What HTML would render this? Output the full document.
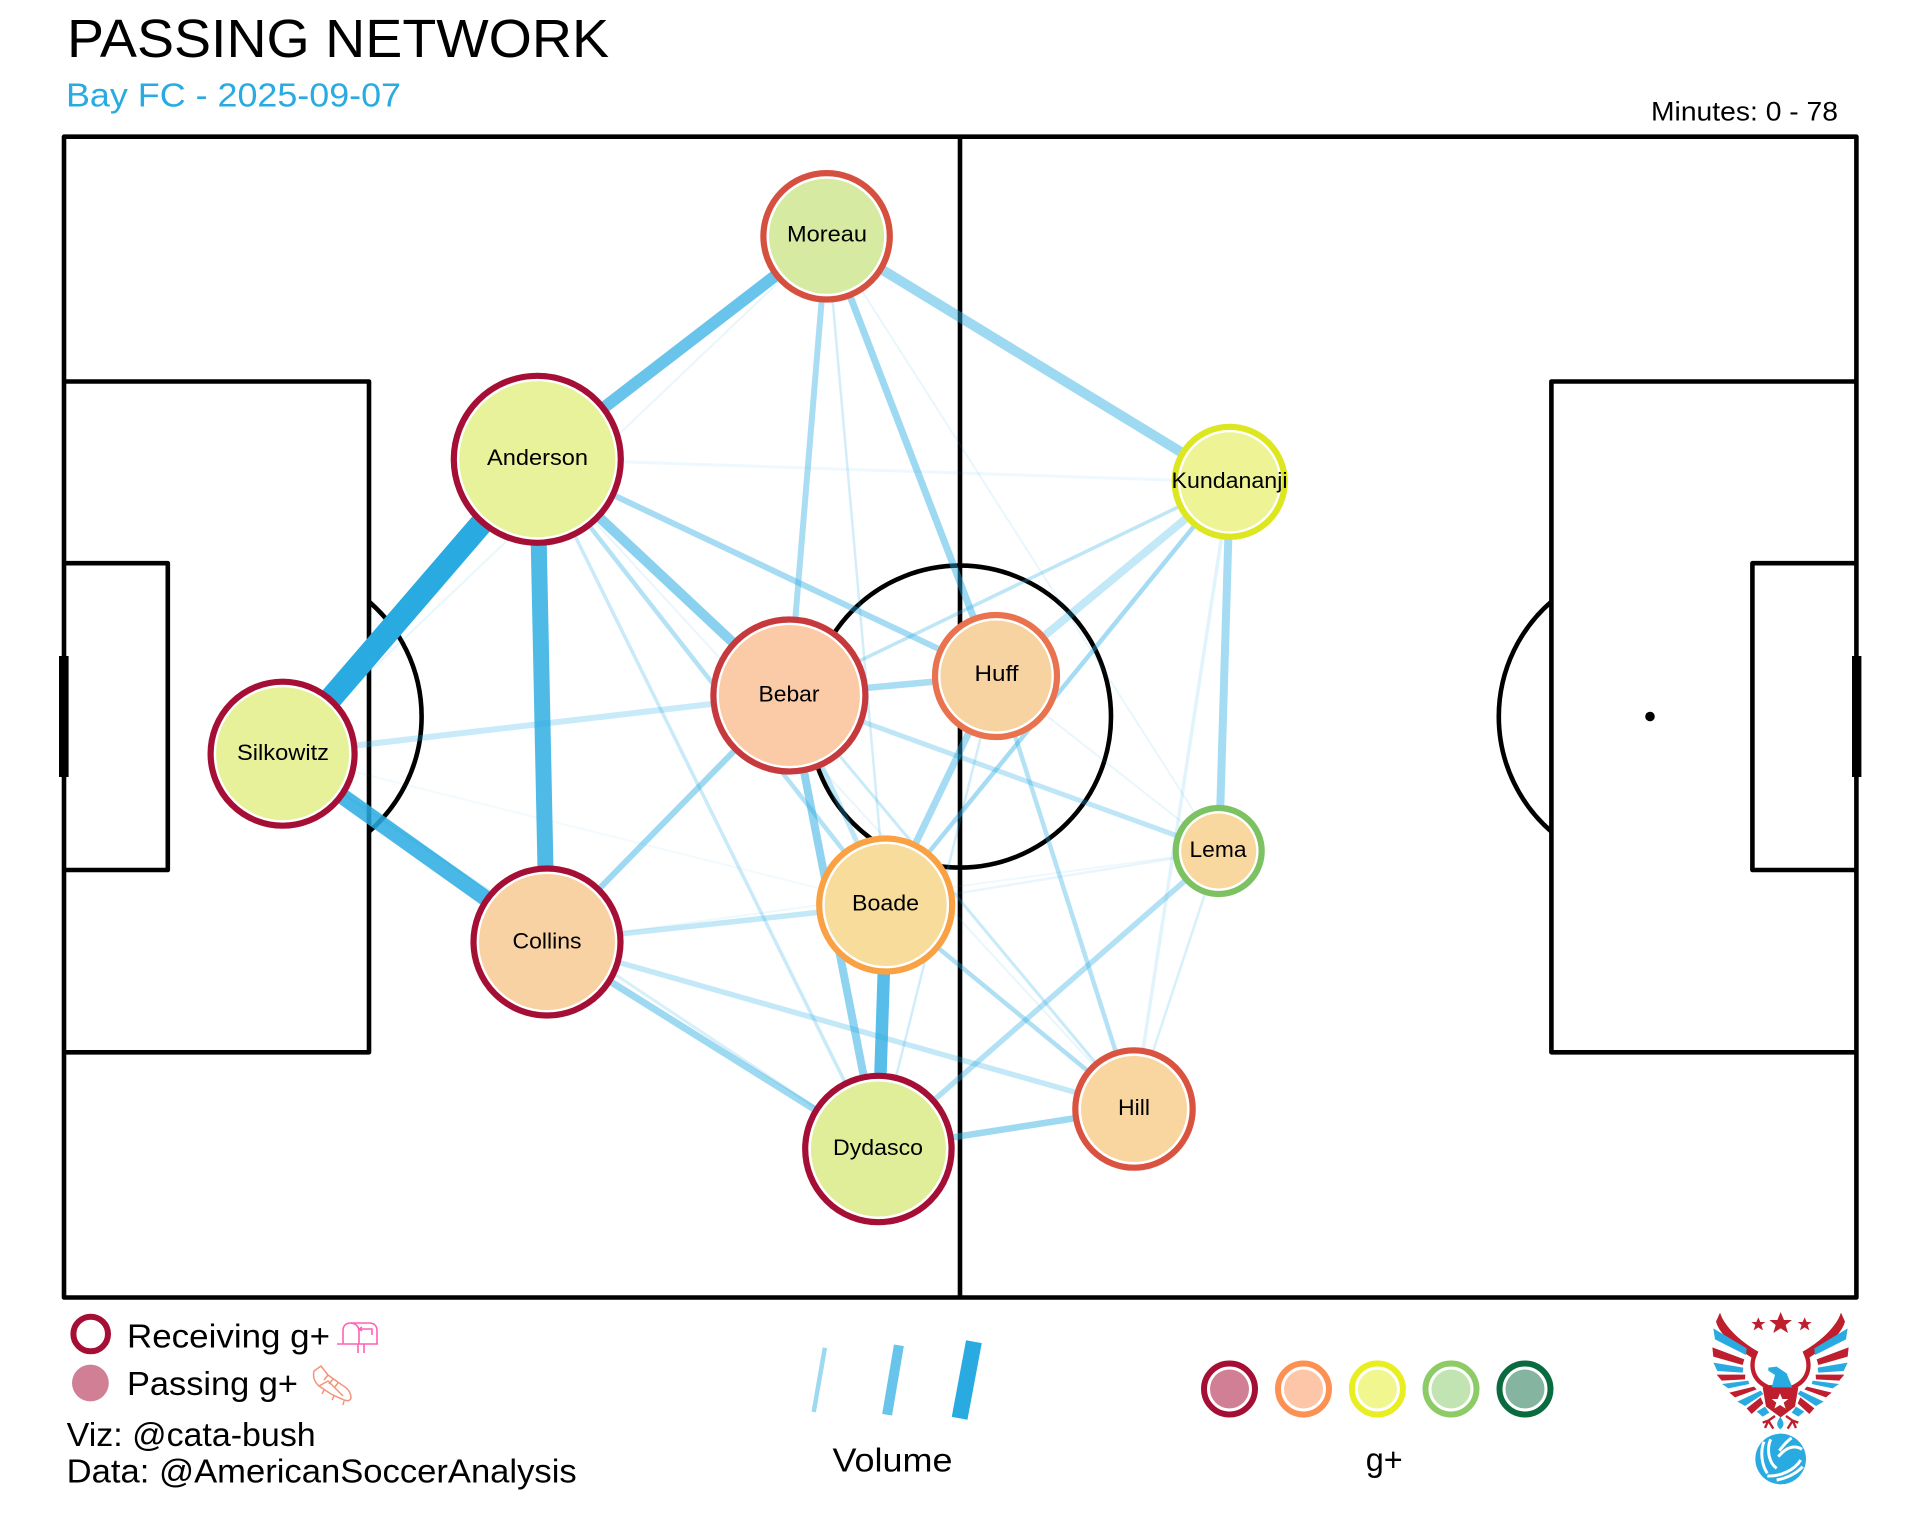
<!DOCTYPE html>
<html lang="en">
<head>
<meta charset="utf-8">
<title>Passing Network</title>
<style>
html,body{margin:0;padding:0;background:#fff}
svg{display:block}
text{font-family:"Liberation Sans",sans-serif;fill:#000}
</style>
</head>
<body>
<svg xmlns="http://www.w3.org/2000/svg" width="1920" height="1521" viewBox="0 0 1920 1521">
<rect width="1920" height="1521" fill="#fff"/>

<text x="67" y="57" font-size="54" textLength="542" lengthAdjust="spacingAndGlyphs">PASSING NETWORK</text>
<text x="66" y="106.5" font-size="33" textLength="335" lengthAdjust="spacingAndGlyphs" style="fill:#29abe2">Bay FC - 2025-09-07</text>
<text x="1651" y="120.5" font-size="27" textLength="187" lengthAdjust="spacingAndGlyphs">Minutes: 0 - 78</text>

<!-- pitch -->
<g fill="none" stroke="#000" stroke-width="4.6" stroke-linejoin="round">
<rect x="64" y="136.7" width="1792.4" height="1160.8"/>
<line x1="960" y1="136.7" x2="960" y2="1297.5"/>
<circle cx="960" cy="716.6" r="151"/>
<path d="M64,381.5H369V1052.3H64"/>
<path d="M64,563.2H167.8V870H64"/>
<path d="M1856.4,381.5H1551.4V1052.3H1856.4"/>
<path d="M1856.4,563.2H1752.4V870H1856.4"/>
<path d="M369,601.6A152,152 0 0 1 369,831.6"/>
<path d="M1551.4,601.6A152,152 0 0 0 1551.4,831.6"/>
</g>
<rect x="59" y="656" width="9.6" height="121" fill="#000"/>
<rect x="1852" y="656" width="9.4" height="121" fill="#000"/>
<circle cx="1650" cy="716.5" r="4.8" fill="#000"/>

<!-- edges -->
<g stroke="#29abe2" fill="none">
<line x1="537" y1="459" x2="283" y2="754" stroke-width="23"/>
<line x1="537" y1="459" x2="547" y2="942" stroke-width="16" stroke-opacity=".82"/>
<line x1="283" y1="754" x2="547" y2="942" stroke-width="16" stroke-opacity=".85"/>
<line x1="537" y1="459" x2="827" y2="236" stroke-width="12" stroke-opacity=".7"/>
<line x1="827" y1="236" x2="1230" y2="482" stroke-width="10" stroke-opacity=".45"/>
<line x1="827" y1="236" x2="789" y2="695" stroke-width="6" stroke-opacity=".4"/>
<line x1="827" y1="236" x2="996" y2="676" stroke-width="7" stroke-opacity=".45"/>
<line x1="827" y1="236" x2="886" y2="905" stroke-width="2.5" stroke-opacity=".2"/>
<line x1="827" y1="236" x2="1219" y2="851" stroke-width="2" stroke-opacity=".1"/>
<line x1="827" y1="236" x2="283" y2="754" stroke-width="2" stroke-opacity=".1"/>
<line x1="537" y1="459" x2="1230" y2="482" stroke-width="3" stroke-opacity=".08"/>
<line x1="537" y1="459" x2="996" y2="676" stroke-width="6" stroke-opacity=".42"/>
<line x1="537" y1="459" x2="789" y2="695" stroke-width="10" stroke-opacity=".55"/>
<line x1="537" y1="459" x2="886" y2="905" stroke-width="4.5" stroke-opacity=".35"/>
<line x1="537" y1="459" x2="878" y2="1149" stroke-width="3.5" stroke-opacity=".25"/>
<line x1="537" y1="459" x2="1134" y2="1109" stroke-width="2" stroke-opacity=".1"/>
<line x1="283" y1="754" x2="789" y2="695" stroke-width="6" stroke-opacity=".25"/>
<line x1="283" y1="754" x2="886" y2="905" stroke-width="2" stroke-opacity=".06"/>
<line x1="283" y1="754" x2="878" y2="1149" stroke-width="3" stroke-opacity=".18"/>
<line x1="789" y1="695" x2="996" y2="676" stroke-width="6.5" stroke-opacity=".4"/>
<line x1="789" y1="695" x2="1230" y2="482" stroke-width="3.5" stroke-opacity=".3"/>
<line x1="789" y1="695" x2="547" y2="942" stroke-width="6" stroke-opacity=".45"/>
<line x1="789" y1="695" x2="886" y2="905" stroke-width="5" stroke-opacity=".3"/>
<line x1="789" y1="695" x2="878" y2="1149" stroke-width="8" stroke-opacity=".52"/>
<line x1="789" y1="695" x2="1219" y2="851" stroke-width="5" stroke-opacity=".3"/>
<line x1="789" y1="695" x2="1134" y2="1109" stroke-width="3" stroke-opacity=".25"/>
<line x1="996" y1="676" x2="1230" y2="482" stroke-width="8" stroke-opacity=".28"/>
<line x1="996" y1="676" x2="886" y2="905" stroke-width="7" stroke-opacity=".42"/>
<line x1="996" y1="676" x2="878" y2="1149" stroke-width="2.5" stroke-opacity=".22"/>
<line x1="996" y1="676" x2="1134" y2="1109" stroke-width="4.5" stroke-opacity=".35"/>
<line x1="996" y1="676" x2="1219" y2="851" stroke-width="2" stroke-opacity=".1"/>
<line x1="1230" y1="482" x2="886" y2="905" stroke-width="4.5" stroke-opacity=".42"/>
<line x1="1230" y1="482" x2="1219" y2="851" stroke-width="8" stroke-opacity=".42"/>
<line x1="1230" y1="482" x2="1134" y2="1109" stroke-width="3.5" stroke-opacity=".14"/>
<line x1="1219" y1="851" x2="1134" y2="1109" stroke-width="2.5" stroke-opacity=".18"/>
<line x1="1219" y1="851" x2="878" y2="1149" stroke-width="5.5" stroke-opacity=".36"/>
<line x1="1219" y1="851" x2="886" y2="905" stroke-width="2.5" stroke-opacity=".1"/>
<line x1="1219" y1="851" x2="547" y2="942" stroke-width="2" stroke-opacity=".08"/>
<line x1="547" y1="942" x2="886" y2="905" stroke-width="5.5" stroke-opacity=".28"/>
<line x1="547" y1="942" x2="1134" y2="1109" stroke-width="5.5" stroke-opacity=".28"/>
<line x1="547" y1="942" x2="878" y2="1149" stroke-width="7" stroke-opacity=".45"/>
<line x1="886" y1="905" x2="878" y2="1149" stroke-width="12.5" stroke-opacity=".78"/>
<line x1="886" y1="905" x2="1134" y2="1109" stroke-width="4.5" stroke-opacity=".38"/>
<line x1="878" y1="1149" x2="1134" y2="1109" stroke-width="6.5" stroke-opacity=".45"/>
</g>

<!-- nodes -->
<g stroke-width="6.2">
<circle cx="826.6" cy="236.3" r="63.2" fill="#fff" stroke="#d6503f"/><circle cx="826.6" cy="236.3" r="57.5" fill="#d6eaa2"/>
<circle cx="537.3" cy="459.3" r="83.5" fill="#fff" stroke="#a50f35"/><circle cx="537.3" cy="459.3" r="78" fill="#e8f29a"/>
<circle cx="282.6" cy="753.7" r="72" fill="#fff" stroke="#a50f35"/><circle cx="282.6" cy="753.7" r="66.5" fill="#e6f19a"/>
<circle cx="789.4" cy="695.5" r="76" fill="#fff" stroke="#c63a3e"/><circle cx="789.4" cy="695.5" r="70.5" fill="#facba6"/>
<circle cx="996" cy="676" r="61" fill="#fff" stroke="#e9734f"/><circle cx="996" cy="676" r="55.5" fill="#f8d3a2"/>
<circle cx="1229.7" cy="481.8" r="55" fill="#fff" stroke="#dde71f"/><circle cx="1229.7" cy="481.8" r="49.5" fill="#eef496"/>
<circle cx="1218.7" cy="851" r="43" fill="#fff" stroke="#7dc262"/><circle cx="1218.7" cy="851" r="37.5" fill="#f9d8a0"/>
<circle cx="1134" cy="1109" r="58.7" fill="#fff" stroke="#d95340"/><circle cx="1134" cy="1109" r="53" fill="#f9d6a0"/>
<circle cx="885.7" cy="905" r="66.5" fill="#fff" stroke="#f9a143"/><circle cx="885.7" cy="905" r="61" fill="#f7dc9c"/>
<circle cx="547" cy="942" r="73.5" fill="#fff" stroke="#a50f35"/><circle cx="547" cy="942" r="68" fill="#f9d2a3"/>
<circle cx="878.4" cy="1149" r="73.2" fill="#fff" stroke="#a50f35"/><circle cx="878.4" cy="1149" r="67.5" fill="#e0ee9a"/>
</g>
<g font-size="22" text-anchor="middle">
<text x="827" y="241.7" textLength="80" lengthAdjust="spacingAndGlyphs">Moreau</text>
<text x="537.5" y="465" textLength="101" lengthAdjust="spacingAndGlyphs">Anderson</text>
<text x="283" y="760" textLength="92" lengthAdjust="spacingAndGlyphs">Silkowitz</text>
<text x="789" y="701.7" textLength="61" lengthAdjust="spacingAndGlyphs">Bebar</text>
<text x="996.5" y="681" textLength="44" lengthAdjust="spacingAndGlyphs">Huff</text>
<text x="1229.5" y="488" textLength="116" lengthAdjust="spacingAndGlyphs">Kundananji</text>
<text x="1218" y="857" textLength="57" lengthAdjust="spacingAndGlyphs">Lema</text>
<text x="1134" y="1115" textLength="32" lengthAdjust="spacingAndGlyphs">Hill</text>
<text x="885.5" y="910.7" textLength="67" lengthAdjust="spacingAndGlyphs">Boade</text>
<text x="547" y="948.5" textLength="69" lengthAdjust="spacingAndGlyphs">Collins</text>
<text x="878" y="1155" textLength="90" lengthAdjust="spacingAndGlyphs">Dydasco</text>
</g>

<!-- left legend -->
<circle cx="90.7" cy="1334" r="17.3" fill="#fff" stroke="#a50f35" stroke-width="6"/>
<circle cx="90.4" cy="1383" r="18.4" fill="#d07f94"/>
<g font-size="33">
<text x="127" y="1347.5" textLength="203" lengthAdjust="spacingAndGlyphs">Receiving g+</text>
<text x="127" y="1395" textLength="171" lengthAdjust="spacingAndGlyphs">Passing g+</text>
<text x="66.7" y="1446" textLength="249" lengthAdjust="spacingAndGlyphs">Viz: @cata-bush</text>
<text x="66.7" y="1482.5" textLength="510" lengthAdjust="spacingAndGlyphs">Data: @AmericanSoccerAnalysis</text>
</g>
<!-- mailbox -->
<g fill="none" stroke="#ff62b5" stroke-width="1.6">
<path d="M343,1344V1331Q343,1323 351,1323H369Q377,1323 377,1331V1344"/>
<path d="M351,1323Q359,1324 359,1332V1344"/>
<path d="M337,1344H378"/>
<path d="M359,1329H372V1335M359,1329L362,1327M359,1329L362,1331"/>
<path d="M358,1344V1353M364,1344V1353"/>
</g>
<!-- boot -->
<g fill="none" stroke="#f4937a" stroke-width="1.5" stroke-linejoin="round" transform="translate(-2,-6)">
<path d="M316,1377L323,1372L330,1381L344,1391Q353,1396 353,1404Q352,1408 346,1406L333,1400L321,1392Q314,1386 316,1377Z"/>
<path d="M330,1381L326,1386M335,1385L331,1390M340,1389L336,1394M321,1392L330,1387L345,1402"/>
<path d="M326,1396L324,1400M336,1402L334,1406M346,1407L345,1411"/>
</g>

<!-- volume legend -->
<line x1="824.9" y1="1347.7" x2="813.7" y2="1412" stroke="#29abe2" stroke-width="4.5" stroke-opacity=".45"/>
<line x1="898.9" y1="1345.3" x2="887.1" y2="1414.7" stroke="#29abe2" stroke-width="10" stroke-opacity=".7"/>
<line x1="973.9" y1="1341.7" x2="959.6" y2="1418.3" stroke="#29abe2" stroke-width="16"/>
<text x="832.5" y="1471.5" font-size="33" textLength="120" lengthAdjust="spacingAndGlyphs">Volume</text>
<text x="1365.7" y="1471" font-size="33" textLength="37" lengthAdjust="spacingAndGlyphs">g+</text>

<!-- g+ legend -->
<g stroke-width="6">
<circle cx="1229.5" cy="1389" r="25.5" fill="#fff" stroke="#a50f35"/><circle cx="1229.5" cy="1389" r="19.5" fill="#d07f94"/>
<circle cx="1303.5" cy="1389" r="25.5" fill="#fff" stroke="#fd9153"/><circle cx="1303.5" cy="1389" r="19.5" fill="#fdc6a8"/>
<circle cx="1377.4" cy="1389" r="25.5" fill="#fff" stroke="#e8ee1f"/><circle cx="1377.4" cy="1389" r="19.5" fill="#f2f68f"/>
<circle cx="1451" cy="1389" r="25.5" fill="#fff" stroke="#8ccb66"/><circle cx="1451" cy="1389" r="19.5" fill="#c2e3b2"/>
<circle cx="1525" cy="1389" r="25.5" fill="#fff" stroke="#0a6b3f"/><circle cx="1525" cy="1389" r="19.5" fill="#85b5a0"/>
</g>

<!-- logo -->
<g transform="translate(1680,1300) scale(.3333)">
<defs>
<g id="wing">
<path fill="#be1e2d" d="M120,38C135,85 190,130 235,155L225,180C180,150 120,110 108,65Z"/>
<path fill="#29abe2" d="M100,85L200,145L198,165L105,118Z"/>
<path fill="#be1e2d" d="M97,142L193,178L188,195L100,170Z"/>
<path fill="#29abe2" d="M100,188L190,203L188,218L112,213Z"/>
<path fill="#be1e2d" d="M110,224L196,224L195,238L125,242Z"/>
<path fill="#29abe2" d="M126,252L205,242L208,252L145,265Z"/>
<path fill="#be1e2d" d="M148,278L222,260L230,268L165,292Z"/>
<path fill="#29abe2" d="M172,305L242,272L250,282L195,318Z"/>
<path fill="#be1e2d" d="M200,325L242,292L250,310L215,342Z"/>
<path fill="#29abe2" d="M230,335L255,320L268,338L248,350Z"/>
<path fill="none" stroke="#be1e2d" stroke-width="7" d="M285,348L265,362M265,362L248,368M265,362L255,384M265,362L280,386"/>
</g>
</defs>
<use href="#wing"/>
<use href="#wing" transform="translate(603,0) scale(-1,1)"/>
<path fill="none" stroke="#be1e2d" stroke-width="13" d="M228,155C208,195 215,240 265,262L338,262C388,240 395,195 375,155"/>
<path fill="#be1e2d" d="M248,262H355L345,320L302,352L258,320Z"/>
<path fill="#29abe2" d="M265,203L290,200L320,220L337,262H275L285,225L265,212Z"/>
<path fill="#fff" d="M300,280L307,297H325L311,308L317,326L300,315L283,326L289,308L275,297H293Z"/>
<path fill="#29abe2" d="M301,350C292,365 285,375 301,388C317,375 310,365 301,350Z"/>
<path fill="#be1e2d" d="M302,36L312,60H336L317,75L324,99L302,85L280,99L287,75L268,60H292Z"/>
<path fill="#be1e2d" d="M235,52L241,66H256L244,75L249,91L235,82L221,91L226,75L214,66H229Z"/>
<path fill="#be1e2d" d="M374,52L380,66H395L383,75L388,91L374,82L360,91L365,75L353,66H368Z"/>
<circle cx="302" cy="477" r="76" fill="#29abe2"/>
<g fill="none" stroke="#fff" stroke-width="9">
<path d="M252,425C240,455 245,495 262,520"/>
<path d="M272,418C258,450 268,490 290,505"/>
<path d="M295,470C320,440 345,435 366,448"/>
<path d="M298,452C315,430 325,420 335,414"/>
<path d="M262,528C300,530 345,510 362,480"/>
<path d="M290,540C320,535 350,520 368,500"/>
</g>
</g>
</svg>
</body>
</html>
